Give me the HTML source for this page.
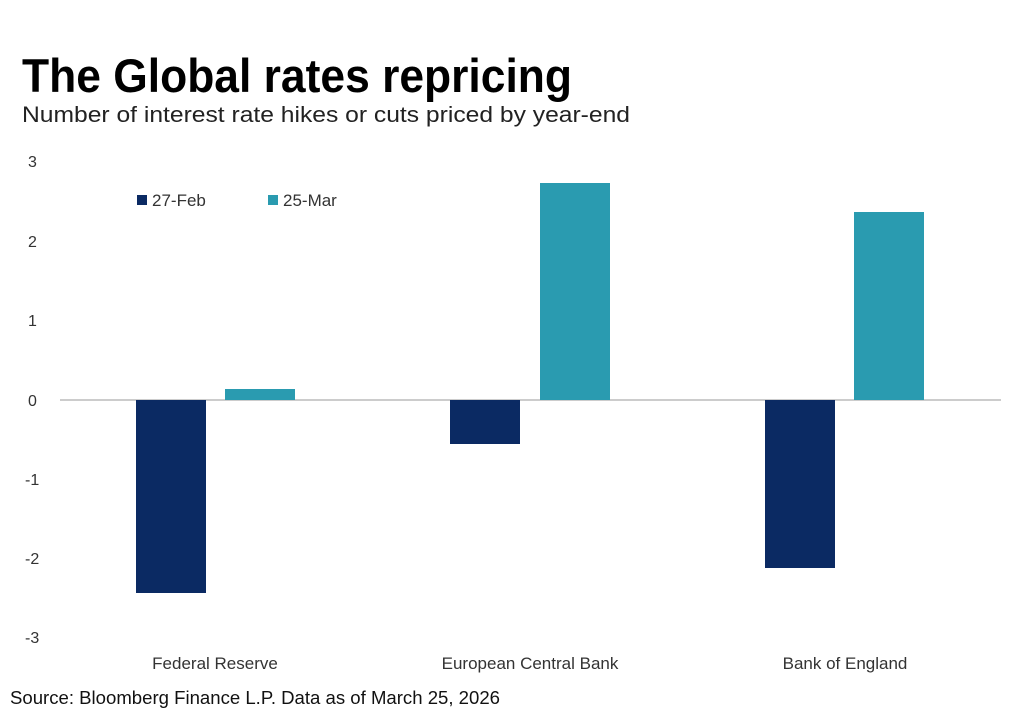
<!DOCTYPE html>
<html><head><meta charset="utf-8"><style>html,body{margin:0;padding:0;background:#fff}svg{display:block}</style></head>
<body>
<svg width="1024" height="710" viewBox="0 0 1024 710" xmlns="http://www.w3.org/2000/svg" font-family="Liberation Sans, sans-serif">
<rect width="1024" height="710" fill="#fff"/>
<text x="22" y="92" font-size="47" font-weight="bold" fill="#000" textLength="550" lengthAdjust="spacingAndGlyphs">The Global rates repricing</text>
<text x="22" y="122" font-size="22" fill="#222" textLength="608" lengthAdjust="spacingAndGlyphs">Number of interest rate hikes or cuts priced by year-end</text>
<g font-size="16" fill="#333" text-anchor="start">
<text x="28" y="167">3</text>
<text x="28" y="247">2</text>
<text x="28" y="326">1</text>
<text x="28" y="406">0</text>
<text x="25" y="485">-1</text>
<text x="25" y="564">-2</text>
<text x="25" y="643">-3</text>
</g>
<line x1="60" y1="400" x2="1001" y2="400" stroke="#999" stroke-width="1"/>
<rect x="136" y="400" width="70" height="193" fill="#0b2a63"/>
<rect x="225" y="389" width="70" height="11" fill="#2a9bb0"/>
<rect x="450" y="400" width="70" height="44" fill="#0b2a63"/>
<rect x="540" y="183" width="70" height="217" fill="#2a9bb0"/>
<rect x="765" y="400" width="70" height="168" fill="#0b2a63"/>
<rect x="854" y="212" width="70" height="188" fill="#2a9bb0"/>
<rect x="137" y="195" width="10" height="10" fill="#0b2a63"/>
<text x="152" y="206" font-size="17" fill="#333">27-Feb</text>
<rect x="268" y="195" width="10" height="10" fill="#2a9bb0"/>
<text x="283" y="206" font-size="17" fill="#333">25-Mar</text>
<g font-size="17" fill="#333" text-anchor="middle">
<text x="215" y="669">Federal Reserve</text>
<text x="530" y="669">European Central Bank</text>
<text x="845" y="669">Bank of England</text>
</g>
<text x="10" y="704" font-size="18" fill="#111" textLength="490" lengthAdjust="spacingAndGlyphs">Source: Bloomberg Finance L.P. Data as of March 25, 2026</text>
</svg>
</body></html>
